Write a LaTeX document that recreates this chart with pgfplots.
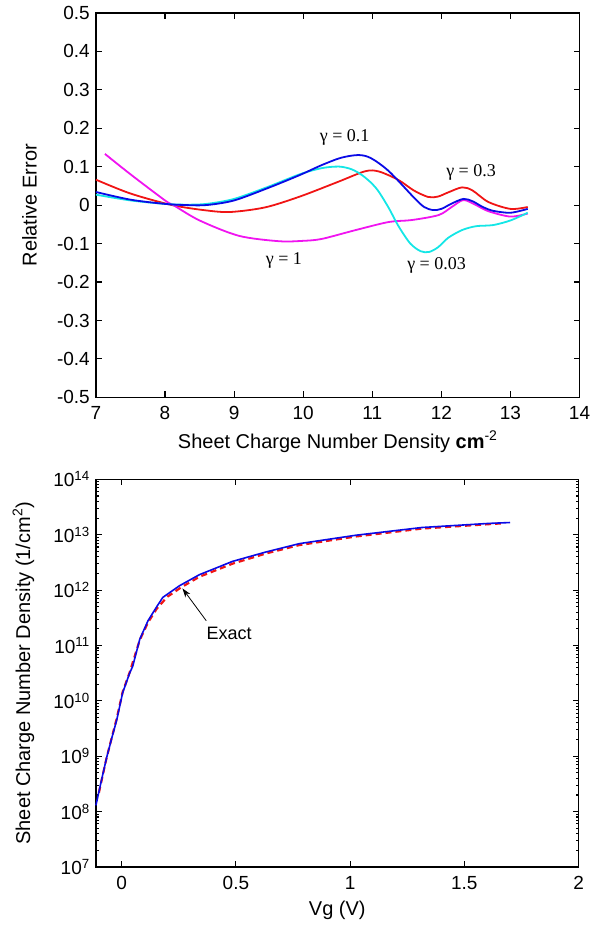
\documentclass[border=0pt]{standalone}
\usepackage{fontspec}
\setmainfont{Liberation Sans}
\newfontfamily\tnr{Liberation Serif}
\usepackage{pgfplots}
\pgfplotsset{compat=1.18}
\usetikzlibrary{arrows.meta}
\definecolor{mblue}{RGB}{10,10,230}
\definecolor{mred}{RGB}{240,20,20}
\definecolor{mcyan}{RGB}{20,230,230}
\definecolor{mmag}{RGB}{240,20,240}
\pgfplotsset{
  mystyle/.style={
    scale only axis,
    anchor=south west,
    tick align=inside,
    major tick length=6pt,
    minor tick length=3pt,
    axis line style={line width=1.6pt},
    every tick/.style={black, line width=1.1pt},
    tick label style={font=\fontsize{19}{22}\selectfont},
    xticklabel style={yshift=-3pt},
    label style={font=\fontsize{20}{23}\selectfont},
    /pgf/number format/assume math mode=true,
    clip=false,
  }
}
\newcommand{\gl}[1]{\tnr\fontsize{18}{21}\selectfont γ = #1}
\begin{document}
\fontsize{18}{21}\selectfont
\begin{tikzpicture}[x=1pt,y=1pt]
\path (0,0) rectangle (586,926);
% ---------- top axis ----------
\begin{axis}[mystyle,
  at={(96pt,529pt)}, width=484pt, height=385pt,
  xmin=7, xmax=14, ymin=-0.5, ymax=0.5,
  xtick={7,8,9,10,11,12,13,14},
  xticklabels={7,8,9,10,11,12,13,14},
  ytick={-0.5,-0.4,-0.3,-0.2,-0.1,0,0.1,0.2,0.3,0.4,0.5},
  yticklabels={-0.5,-0.4,-0.3,-0.2,-0.1,0,0.1,0.2,0.3,0.4,0.5},
  xlabel={Sheet Charge Number Density \textbf{cm}\textsuperscript{-2}},
  ylabel={Relative Error},
  xlabel style={yshift=1pt},
  ylabel style={yshift=8pt},
  every axis plot/.append style={line width=1.8pt, smooth},
]
\addplot[mred] coordinates {
(7.0,0.066) (7.5,0.030) (8.1,0.000) (8.6,-0.014) (8.95,-0.018) (9.45,-0.006)
(9.95,0.022) (10.5,0.060) (10.9,0.088) (11.1,0.087) (11.38,0.065) (11.6,0.038)
(11.81,0.021) (11.95,0.022) (12.1,0.033) (12.3,0.046) (12.45,0.038) (12.68,0.008)
(13.0,-0.010) (13.25,-0.005)};
\addplot[mmag] coordinates {
(7.13,0.133) (7.5,0.080) (8.0,0.012) (8.12,0.0) (8.5,-0.040) (9.07,-0.080)
(9.65,-0.094) (10.0,-0.093) (10.27,-0.088) (10.76,-0.065) (11.24,-0.044)
(11.57,-0.039) (11.96,-0.026) (12.15,-0.005) (12.32,0.013) (12.5,0.000)
(12.68,-0.016) (13.0,-0.030) (13.25,-0.022)};
\addplot[mcyan] coordinates {
(7.0,0.027) (7.5,0.012) (8.0,0.003) (8.3,0.001) (8.6,0.003) (9.0,0.016)
(9.5,0.048) (9.95,0.080) (10.27,0.096) (10.52,0.100) (10.7,0.093) (10.85,0.078)
(11.0,0.055) (11.1,0.033) (11.24,-0.008) (11.38,-0.055) (11.55,-0.100)
(11.7,-0.120) (11.82,-0.122) (11.95,-0.110) (12.1,-0.085) (12.3,-0.065)
(12.5,-0.055) (12.75,-0.052) (13.0,-0.040) (13.25,-0.020)};
\addplot[mblue] coordinates {
(7.0,0.034) (7.5,0.014) (8.0,0.003) (8.3,0.0) (8.6,0.0) (9.0,0.012)
(9.5,0.045) (9.95,0.078) (10.27,0.104) (10.55,0.123) (10.8,0.130) (10.98,0.122)
(11.24,0.088) (11.6,0.020) (11.75,-0.005)
(11.88,-0.013) (12.0,-0.010) (12.15,0.004) (12.32,0.016) (12.45,0.010)
(12.6,-0.005) (12.75,-0.015) (13.0,-0.020) (13.25,-0.010)};
\node at (axis cs:10.6,0.177) {\gl{0.1}};
\node at (axis cs:12.43,0.086) {\gl{0.3}};
\node at (axis cs:11.93,-0.156) {\gl{0.03}};
\node at (axis cs:9.72,-0.143) {\gl{1}};
\end{axis}
% ---------- bottom axis ----------
\begin{axis}[mystyle,
  at={(96pt,59pt)}, width=483pt, height=388pt,
  xmin=-0.113, xmax=2, ymode=log, ymin=1e7, ymax=1e14,
  xtick={0,0.5,1,1.5,2},
  xticklabels={0,0.5,1,1.5,2},
  ytick={1e7,1e8,1e9,1e10,1e11,1e12,1e13,1e14},
  yticklabels={10\textsuperscript{7},10\textsuperscript{8},10\textsuperscript{9},10\textsuperscript{10},10\textsuperscript{11},10\textsuperscript{12},10\textsuperscript{13},10\textsuperscript{14}},
  xlabel={Vg (V)},
  ylabel={Sheet Charge Number Density (1/cm\textsuperscript{2})},
  xlabel style={yshift=1pt},
  ylabel style={yshift=7pt},
]
\addplot[mred, line width=2.2pt, dash pattern=on 6pt off 4pt] coordinates {
(-0.10,2.2e8) (-0.066,9.5e8) (-0.022,4.8e9) (0.004,1.45e10) (0.035,3.3e10)
(0.079,1.26e11) (0.115,2.6e11) (0.153,4.6e11) (0.2,7.6e11) (0.26,1.12e12)
(0.34,1.74e12) (0.485,3.0e12) (0.633,4.6e12) (0.777,6.5e12) (1.026,9.3e12)
(1.314,1.29e13) (1.607,1.55e13) (1.66,1.6e13)};
\addplot[mblue, line width=1.6pt] coordinates {
(-0.113,1.3e8) (-0.09,3.5e8) (-0.066,9.5e8) (-0.044,2.1e9) (-0.022,4.5e9)
(0.004,1.4e10) (0.035,3.2e10) (0.048,4.2e10) (0.079,1.3e11) (0.115,2.8e11)
(0.153,5.0e11) (0.18,7.4e11) (0.253,1.2e12) (0.34,1.9e12) (0.485,3.3e12)
(0.633,4.9e12) (0.777,6.9e12) (1.026,9.8e12) (1.314,1.35e13) (1.607,1.6e13)
(1.70,1.66e13)};
\draw[-{Stealth[length=9pt,width=6pt]}, line width=0.8pt] (axis cs:0.37,2.8e11) -- (axis cs:0.266,1.07e12);
\node[font=\fontsize{18}{21}\selectfont] at (axis cs:0.47,1.66e11) {Exact};
\end{axis}
\end{tikzpicture}
\end{document}
